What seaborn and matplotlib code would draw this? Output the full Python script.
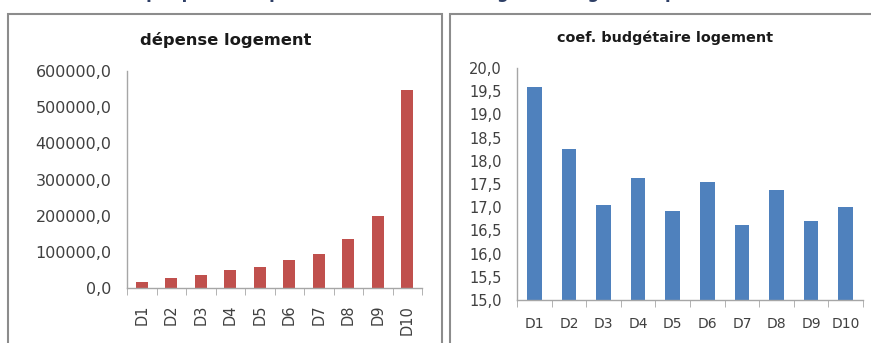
import matplotlib
matplotlib.use("Agg")
import matplotlib.pyplot as plt
import matplotlib.ticker as mticker
from matplotlib.patches import Rectangle
import seaborn as sns

# données
deciles = ["D1", "D2", "D3", "D4", "D5", "D6", "D7", "D8", "D9", "D10"]
depense_logement = [16600, 27600, 36800, 50600, 58900, 78200, 94800, 135300, 198800, 548500]
coef_budgetaire = [19.59, 18.26, 17.04, 17.62, 16.91, 17.54, 16.61, 17.38, 16.71, 17.01]

sns.set_style("white")
plt.rcParams["font.family"] = ["DejaVu Sans"]

rouge = "#C0504D"
bleu = "#4F81BD"
gris_axe = "#A6A6A6"
gris_texte = "#404040"

fig = plt.figure(figsize=(8.71, 3.43), dpi=100)
fig.patch.set_facecolor("white")

# titre coupé en haut de l'image (seuls les jambages sont visibles)
fig.text(0.5, 1.0 + 1.5 / 343, "Graphique 2 : dépense et coefficient budgétaire logement par décile",
         ha="center", va="baseline", fontsize=12, fontweight="bold", color="#2E3F66")

# cadres des deux graphiques
fig.patches.append(Rectangle((8 / 871, -0.05), (442 - 8) / 871, 1.05 - 14 / 343,
                             transform=fig.transFigure, fill=False, ec="#8C8C8C", lw=1.5))
fig.patches.append(Rectangle((450 / 871, -0.05), 0.6, 1.05 - 14 / 343,
                             transform=fig.transFigure, fill=False, ec="#8C8C8C", lw=1.5))

ax1 = fig.add_axes([127 / 871, 1 - 288 / 343, 295 / 871, 217 / 343])
ax2 = fig.add_axes([517 / 871, 1 - 300 / 343, 346 / 871, 232 / 343])

sns.barplot(x=deciles, y=depense_logement, color=rouge, width=0.42, saturation=1,
            linewidth=0, edgecolor="none", ax=ax1)
sns.barplot(x=deciles, y=coef_budgetaire, color=bleu, width=0.42, saturation=1,
            linewidth=0, edgecolor="none", ax=ax2)

virgule = mticker.FuncFormatter(lambda v, p: f"{v:.1f}".replace(".", ","))

ax1.set_ylim(0, 600000)
ax1.yaxis.set_major_locator(mticker.MultipleLocator(100000))
ax2.set_ylim(15, 20)
ax2.yaxis.set_major_locator(mticker.MultipleLocator(0.5))

for ax in (ax1, ax2):
    ax.set_xlim(-0.5, 9.5)
    ax.set_facecolor("none")
    ax.yaxis.set_major_formatter(virgule)
    ax.set_xlabel("")
    ax.set_ylabel("")
    for s in ("top", "right"):
        ax.spines[s].set_visible(False)
    for s in ("left", "bottom"):
        ax.spines[s].set_color(gris_axe)
        ax.spines[s].set_linewidth(1)
    ax.set_xticks([i - 0.5 for i in range(11)], minor=True)
    ax.tick_params(axis="x", which="major", length=0, colors=gris_texte)
    ax.tick_params(axis="x", which="minor", length=5, color=gris_axe, direction="out", bottom=True)
    ax.tick_params(axis="y", length=5, direction="out", colors=gris_texte, pad=6)
    ax.tick_params(axis="y", color=gris_axe)

ax1.tick_params(axis="y", labelsize=11.5)
ax1.tick_params(axis="x", which="major", labelsize=10.5, labelrotation=90, pad=12)
ax2.tick_params(axis="y", labelsize=10.5)
ax2.tick_params(axis="x", which="major", labelsize=10, pad=12)

fig.text(226 / 871, 1 - 40 / 343, "dépense logement", ha="center", va="center",
         fontsize=11.8, fontweight="bold", color="#1a1a1a")
fig.text(665 / 871, 1 - 38 / 343, "coef. budgétaire logement", ha="center", va="center",
         fontsize=10.4, fontweight="bold", color="#1a1a1a")

fig.savefig("out.png", dpi=100)
